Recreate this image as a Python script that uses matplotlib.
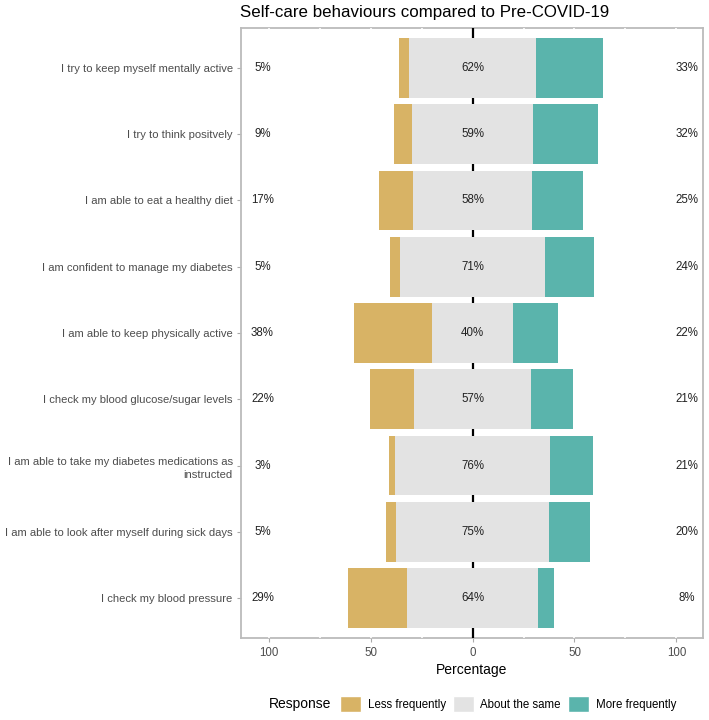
import matplotlib.pyplot as plt
from matplotlib.patches import Patch

plt.rcParams['font.family'] = ['Liberation Sans', 'DejaVu Sans']

items = ["I try to keep myself mentally active",
         "I try to think positvely",
         "I am able to eat a healthy diet",
         "I am confident to manage my diabetes",
         "I am able to keep physically active",
         "I check my blood glucose/sugar levels",
         "I am able to take my diabetes medications as\ninstructed",
         "I am able to look after myself during sick days",
         "I check my blood pressure"]
less = [5, 9, 17, 5, 38, 22, 3, 5, 29]
same = [62, 59, 58, 71, 40, 57, 76, 75, 64]
more = [33, 32, 25, 24, 22, 21, 21, 20, 8]
tick_vals = [-100, -50, 0, 50, 100]
tick_labels = ["100", "50", "0", "50", "100"]

c_less = "#D8B365"
c_same = "#E3E3E3"
c_more = "#5AB4AC"

fig = plt.figure(figsize=(7.09, 7.2), dpi=100)
ax = fig.add_axes([241/709, 82/720, 462/709, 610/720])

n = len(items)
ypos = [n - i for i in range(n)]
half = [s / 2 for s in same]

# white grid lines break the panel border like in ggplot
for gx in range(-100, 101, 25):
    if gx != 0:
        ax.axvline(gx, color="white", lw=1.2, zorder=2.6)
ax.axvline(0, color="black", lw=1.6, zorder=2.7)

ax.barh(ypos, less, left=[-h - l for h, l in zip(half, less)], height=0.9, color=c_less, zorder=3)
ax.barh(ypos, same, left=[-h for h in half], height=0.9, color=c_same, zorder=3)
ax.barh(ypos, more, left=half, height=0.9, color=c_more, zorder=3)

for y, l, s, m in zip(ypos, less, same, more):
    ax.text(-103, y, f"{l}%", ha="center", va="center", fontsize=8.3, color="#222222", zorder=4)
    ax.text(0, y, f"{s}%", ha="center", va="center", fontsize=8.3, color="#222222", zorder=4)
    ax.text(105, y, f"{m}%", ha="center", va="center", fontsize=8.3, color="#222222", zorder=4)

ax.set_xlim(-113.5, 113)
ax.set_ylim(0.4, n + 0.6)
ax.set_yticks(ypos)
ax.set_yticklabels(items, fontsize=8.1, color="#4D4D4D", linespacing=1.45)
ax.set_xticks(tick_vals)
ax.set_xticklabels(tick_labels, fontsize=8.3, color="#4D4D4D")
ax.tick_params(axis="both", color="#AAAAAA", length=3, width=0.8)
ax.tick_params(axis="y", pad=3)
ax.set_xlabel("Percentage", fontsize=10, labelpad=3)
for sp in ax.spines.values():
    sp.set_color("#BBBBBB")
    sp.set_linewidth(1.3)

fig.text(240/709, 1 - 13/720, "Self-care behaviours compared to Pre-COVID-19",
         fontsize=12.2, ha="left", va="center")

handles = [Patch(facecolor=c_less, edgecolor="white", label="Less frequently"),
           Patch(facecolor=c_same, edgecolor="white", label="About the same"),
           Patch(facecolor=c_more, edgecolor="white", label="More frequently")]
fig.text(269/709, 1 - 704/720, "Response", fontsize=10, ha="left", va="center")
fig.legend(handles=handles, loc="center", bbox_to_anchor=(508/709, 1 - 704/720), ncol=3,
           frameon=False, fontsize=8.3, handlelength=1.8, handleheight=1.8,
           handletextpad=0.6, columnspacing=0.6)

fig.savefig("out.png", dpi=100)
